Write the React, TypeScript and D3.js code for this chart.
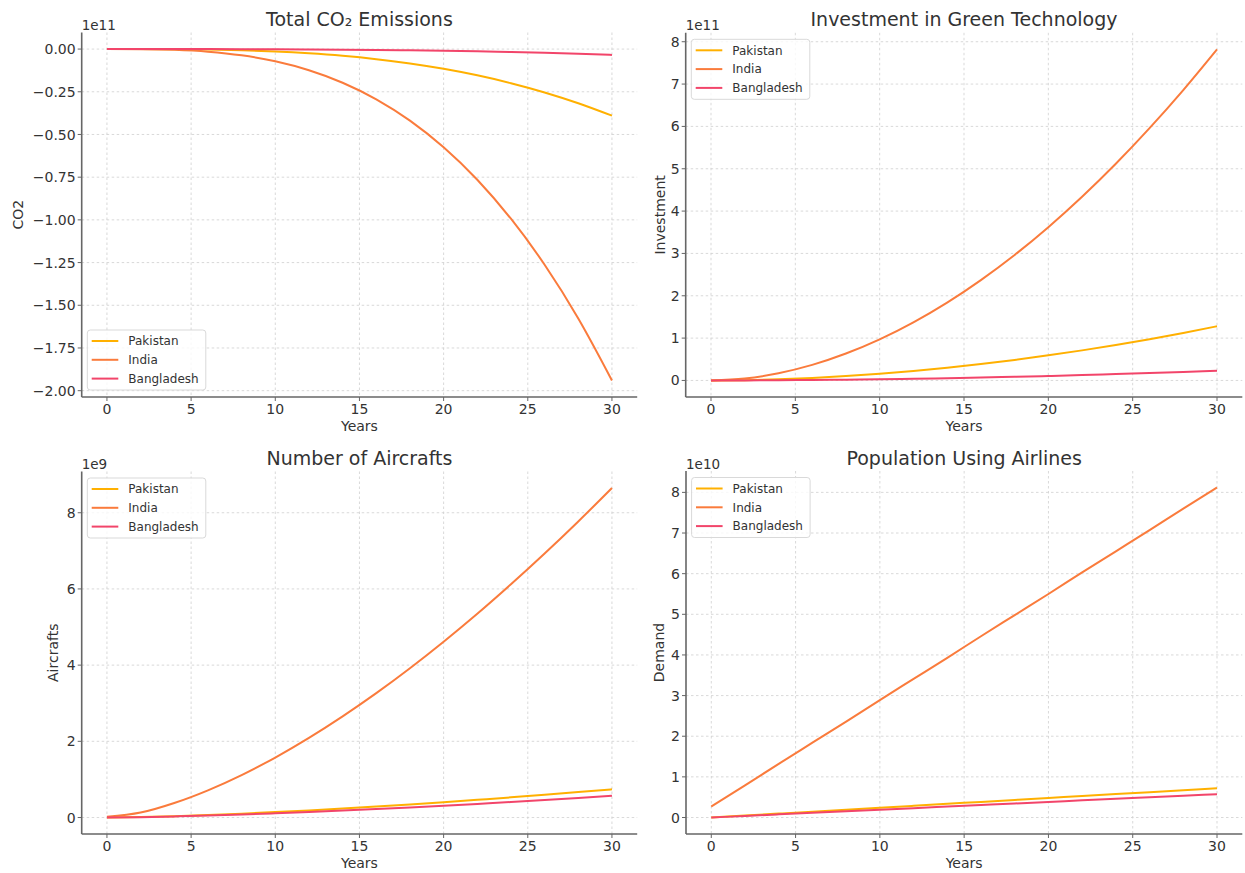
import { scaleLinear, line, curveMonotoneX, range } from "d3";

const years = [0, 2, 4, 6, 8, 10, 12, 14, 16, 18, 20, 22, 24, 26, 28, 30];
const countries = ["Pakistan", "India", "Bangladesh"];
const colors = ["#FFB000", "#FA7B3C", "#F2456A"];
const xTicks = [0, 5, 10, 15, 20, 25, 30];

// CO2, units of 1e11
const co2Pakistan = [0, -0.0001, -0.0009, -0.0031, -0.0074, -0.0144, -0.025, -0.0396, -0.0592, -0.0842, -0.1156, -0.1538, -0.1997, -0.2539, -0.3171, -0.39];
const co2India = [0, -0.0006, -0.0046, -0.0155, -0.0368, -0.0719, -0.1242, -0.1972, -0.2943, -0.419, -0.5748, -0.765, -0.9933, -1.2628, -1.5772, -1.94];
const co2Bangladesh = [0, 0, -0.0001, -0.0003, -0.0006, -0.0013, -0.0022, -0.0035, -0.0052, -0.0073, -0.0101, -0.0134, -0.0174, -0.0221, -0.0276, -0.034];
const co2Ticks = [0, -0.25, -0.5, -0.75, -1, -1.25, -1.5, -1.75, -2];

// investment, units of 1e11
const invPakistan = [0, 0.007, 0.028, 0.06, 0.104, 0.159, 0.225, 0.301, 0.388, 0.485, 0.593, 0.71, 0.838, 0.975, 1.123, 1.28];
const invIndia = [0, 0.046, 0.17, 0.367, 0.635, 0.97, 1.372, 1.838, 2.37, 2.963, 3.62, 4.338, 5.117, 5.959, 6.859, 7.82];
const invBangladesh = [0, 0.001, 0.005, 0.011, 0.019, 0.029, 0.04, 0.054, 0.07, 0.087, 0.106, 0.128, 0.151, 0.175, 0.202, 0.23];
const invTicks = [0, 1, 2, 3, 4, 5, 6, 7, 8];

// aircrafts, units of 1e9
const airPakistan = [0, 0.013, 0.036, 0.066, 0.102, 0.142, 0.187, 0.236, 0.288, 0.344, 0.403, 0.465, 0.529, 0.597, 0.667, 0.74];
const airIndia = [0.02, 0.13, 0.381, 0.714, 1.115, 1.575, 2.091, 2.656, 3.265, 3.919, 4.614, 5.348, 6.122, 6.93, 7.772, 8.65];
const airBangladesh = [0, 0.01, 0.028, 0.051, 0.078, 0.11, 0.144, 0.182, 0.222, 0.265, 0.31, 0.358, 0.408, 0.46, 0.514, 0.57];
const airTicks = [0, 2, 4, 6, 8];

// demand, units of 1e10
const demPakistan = [0, 0.048, 0.096, 0.144, 0.192, 0.24, 0.288, 0.336, 0.384, 0.432, 0.48, 0.528, 0.576, 0.624, 0.672, 0.72];
const demIndia = [0.27, 0.79, 1.32, 1.84, 2.36, 2.89, 3.41, 3.93, 4.46, 4.98, 5.5, 6.03, 6.55, 7.07, 7.6, 8.12];
const demBangladesh = [0, 0.038, 0.077, 0.115, 0.153, 0.192, 0.23, 0.268, 0.307, 0.345, 0.383, 0.422, 0.46, 0.498, 0.537, 0.575];
const demTicks = [0, 1, 2, 3, 4, 5, 6, 7, 8];

const FONT = "DejaVu Sans, sans-serif";
const TEXT = "#333";
const SPINE = "#666";

type Panel = {
  title: string;
  ylabel: string;
  offset: string;
  series: number[][];
  yTicks: number[];
  fmt: (v: number) => string;
  legend: "upper" | "lower";
  box: [number, number, number, number];
  ylabelX: number;
};

const minus = (s: string) => s.replace("-", "\u2212");

const panels: Panel[] = [
  {
    title: "Total CO\u2082 Emissions",
    ylabel: "CO2",
    offset: "1e11",
    series: [co2Pakistan, co2India, co2Bangladesh],
    yTicks: co2Ticks,
    fmt: (v) => minus(v.toFixed(2)),
    legend: "lower",
    box: [81.7, 32.5, 637.2, 397],
    ylabelX: 18.3,
  },
  {
    title: "Investment in Green Technology",
    ylabel: "Investment",
    offset: "1e11",
    series: [invPakistan, invIndia, invBangladesh],
    yTicks: invTicks,
    fmt: (v) => String(v),
    legend: "upper",
    box: [685.7, 32.8, 1242.3, 397],
    ylabelX: 659.5,
  },
  {
    title: "Number of Aircrafts",
    ylabel: "Aircrafts",
    offset: "1e9",
    series: [airPakistan, airIndia, airBangladesh],
    yTicks: airTicks,
    fmt: (v) => String(v),
    legend: "upper",
    box: [81.7, 471.5, 637.2, 834],
    ylabelX: 53,
  },
  {
    title: "Population Using Airlines",
    ylabel: "Demand",
    offset: "1e10",
    series: [demPakistan, demIndia, demBangladesh],
    yTicks: demTicks,
    fmt: (v) => String(v),
    legend: "upper",
    box: [686, 471, 1242.3, 834],
    ylabelX: 659,
  },
];

function Subplot({ p }: { p: Panel }) {
  const [l, t, r, b] = p.box;
  const x = scaleLinear().domain([-1.5, 31.5]).range([l, r]);
  const all = p.series.flat();
  const lo = Math.min(...all);
  const hi = Math.max(...all);
  const pad = (hi - lo) * 0.05;
  const y = scaleLinear().domain([lo - pad, hi + pad]).range([b, t]);
  const path = line<number>()
    .x((_, i) => x(years[i]))
    .y((d) => y(d))
    .curve(curveMonotoneX);

  const legW = 118.5;
  const legH = 60;
  const legX = l + 5.6;
  const legY = p.legend === "upper" ? t + 6.5 : b - 7 - legH;

  return (
    <g fontFamily={FONT}>
      {xTicks.map((v) => (
        <line key={"gx" + v} x1={x(v)} x2={x(v)} y1={t} y2={b} stroke="#cfcfcf" strokeWidth={0.8} strokeDasharray="2.5,2.5" />
      ))}
      {p.yTicks.map((v) => (
        <line key={"gy" + v} x1={l} x2={r} y1={y(v)} y2={y(v)} stroke="#cfcfcf" strokeWidth={0.8} strokeDasharray="2.5,2.5" />
      ))}
      {p.series.map((s, i) => (
        <path key={"s" + i} d={path(s) || ""} fill="none" stroke={colors[i]} strokeWidth={2} />
      ))}
      <line x1={l} x2={l} y1={t} y2={b} stroke={SPINE} strokeWidth={1.6} />
      <line x1={l} x2={r} y1={b} y2={b} stroke={SPINE} strokeWidth={1.6} />
      {xTicks.map((v) => (
        <g key={"tx" + v}>
          <line x1={x(v)} x2={x(v)} y1={b} y2={b + 4} stroke={SPINE} strokeWidth={1} />
          <text x={x(v)} y={b + 17} textAnchor="middle" fontSize={14} fill={TEXT}>
            {v}
          </text>
        </g>
      ))}
      {p.yTicks.map((v) => (
        <g key={"ty" + v}>
          <line x1={l - 4} x2={l} y1={y(v)} y2={y(v)} stroke={SPINE} strokeWidth={1} />
          <text x={l - 6} y={y(v)} dy="0.36em" textAnchor="end" fontSize={14} fill={TEXT}>
            {p.fmt(v)}
          </text>
        </g>
      ))}
      <text x={l} y={t - 2.5} fontSize={13.5} fill={TEXT}>
        {p.offset}
      </text>
      <text x={(l + r) / 2} y={t - 6.5} textAnchor="middle" fontSize={19} fill={TEXT}>
        {p.title}
      </text>
      <text x={(l + r) / 2} y={b + 34} textAnchor="middle" fontSize={14} fill={TEXT}>
        Years
      </text>
      <text
        transform={`translate(${p.ylabelX},${(t + b) / 2}) rotate(-90)`}
        textAnchor="middle"
        dy="0.36em"
        fontSize={14}
        fill={TEXT}
      >
        {p.ylabel}
      </text>
      <rect x={legX} y={legY} width={legW} height={legH} rx={3} fill="white" fillOpacity={0.8} stroke="#d9d9d9" strokeWidth={1} />
      {countries.map((c, i) => {
        const cy = legY + 11 + i * 18.8;
        return (
          <g key={c}>
            <line x1={legX + 4.4} x2={legX + 31} y1={cy} y2={cy} stroke={colors[i]} strokeWidth={2} />
            <text x={legX + 41} y={cy} dy="0.36em" fontSize={12} fill={TEXT}>
              {c}
            </text>
          </g>
        );
      })}
    </g>
  );
}

export default function App() {
  return (
    <svg
      width={1245}
      height={873}
      style={{ position: "absolute", left: 0, top: 0, background: "white" }}
    >
      <rect width={1245} height={873} fill="white" />
      {panels.map((p) => (
        <Subplot key={p.title} p={p} />
      ))}
    </svg>
  );
}
